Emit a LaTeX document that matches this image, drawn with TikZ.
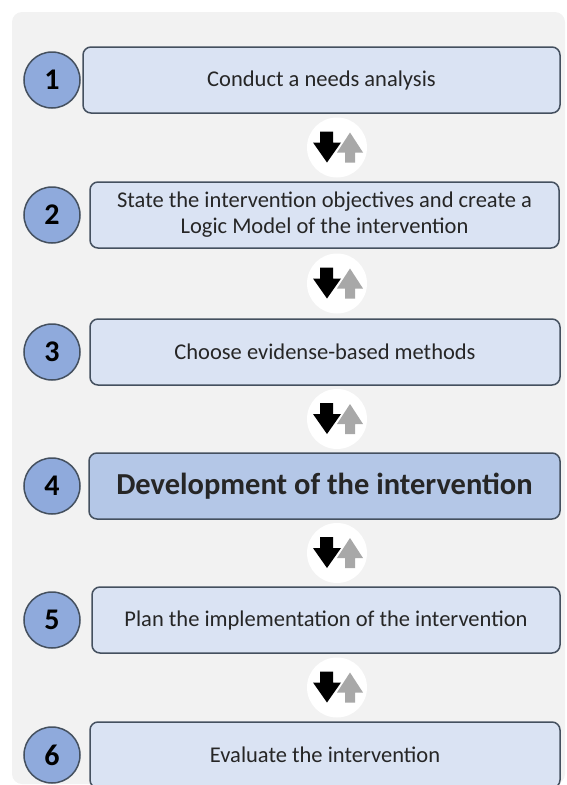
\documentclass[tikz,border=0pt]{standalone}
\usepackage{fontspec}
\setmainfont{Carlito}

\definecolor{panel}{HTML}{F2F2F2}
\definecolor{boxfill}{HTML}{DAE3F3}
\definecolor{boxdark}{HTML}{B4C7E7}
\definecolor{numfill}{HTML}{8FAADC}
\definecolor{edge}{HTML}{44505F}
\definecolor{ink}{HTML}{262626}
\definecolor{upgrey}{HTML}{A8A8A8}

\tikzset{
  stepbox/.style={draw=edge, line width=1.5pt, rounded corners=8pt, fill=boxfill,
    minimum height=66pt, text=ink, align=center,
    font=\fontsize{22.5}{26}\selectfont},
  num/.style={draw=edge, line width=1.5pt, circle, fill=numfill, minimum size=56pt,
    inner sep=0pt, font=\fontsize{30}{32}\selectfont\bfseries},
  hole/.style={circle, fill=white, minimum size=60pt, inner sep=0pt},
  updown/.pic={
    % light grey up arrow behind, black down arrow in front
    \fill[upgrey] (8,15) -- (18,15) -- (18,5) -- (26,5) -- (13,-15) -- (0,5) -- (8,5) -- cycle;
    \fill[black] (-17,-16) -- (-4,-16) -- (-4,-5) -- (4,-5) -- (-10,15) -- (-24,-5) -- (-17,-5) -- cycle;
  }
}

\begin{document}
\begin{tikzpicture}[x=1pt,y=-1pt]
\useasboundingbox (0,0) rectangle (566,785);
\clip (0,0) rectangle (566,785);
\fill[panel, rounded corners=10pt] (12,12) rectangle (565,784);

% steps
\node[stepbox, minimum width=477pt] (s1) at (321.5,80) {Conduct a needs analysis};
\node[stepbox, minimum width=469pt] (s2) at (324.5,215) {State the intervention objectives and create a\\Logic Model of the intervention};
\node[stepbox, minimum width=470pt] (s3) at (325,352) {Choose evidense-based methods};
\node[stepbox, minimum width=471pt, fill=boxdark, font=\fontsize{30.5}{33}\selectfont\bfseries] (s4) at (324.5,486) {Development of the intervention};
\node[stepbox, minimum width=468pt] (s5) at (326,620) {Plan the implementation of the intervention};
\node[stepbox, minimum width=470pt] (s6) at (325,755) {Evaluate the intervention};

% numbers
\node[num] (n1) at (52,80) {1};
\node[num] (n2) at (52,215) {2};
\node[num] (n3) at (52,352) {3};
\node[num] (n4) at (52,486) {4};
\node[num] (n5) at (52,620) {5};
\node[num] (n6) at (52,755) {6};

% arrows between the steps
\node[hole] (a1) at (337,147.5) {};
\node[hole] (a2) at (337,283.5) {};
\node[hole] (a3) at (337,419) {};
\node[hole] (a4) at (337,553) {};
\node[hole] (a5) at (337,687.5) {};
\foreach \a in {a1,a2,a3,a4,a5}
  \pic at (\a) {updown};
\end{tikzpicture}
\end{document}
